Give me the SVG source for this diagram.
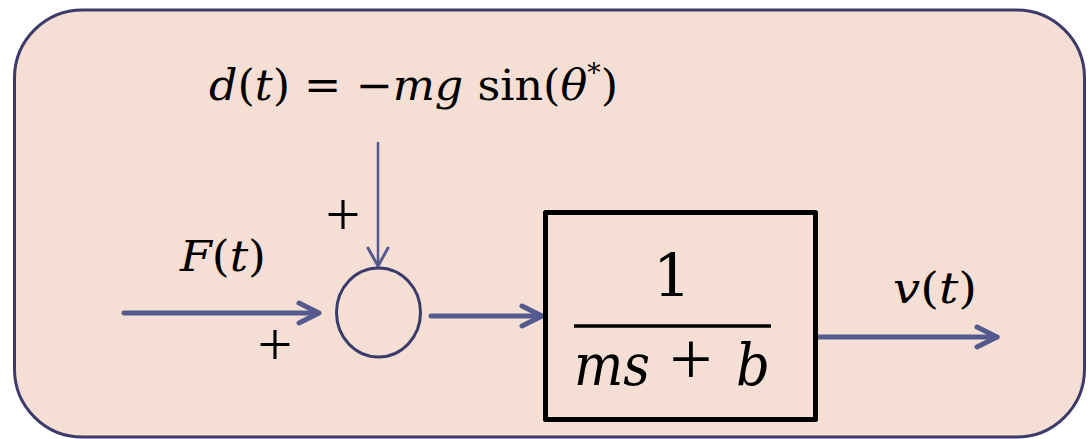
<svg xmlns="http://www.w3.org/2000/svg" width="1090" height="439" viewBox="0 0 1090 439">
<style>
.math{font-family:"DejaVu Serif","Liberation Serif",serif;fill:#000}
.i{font-style:italic}
.conn{stroke:#545a8e;fill:none;stroke-linecap:round;stroke-linejoin:round}
.sign{font-family:"Liberation Serif",serif;fill:#000;text-anchor:middle}
</style>
<g id="frame">
<rect x="14.5" y="10" width="1070" height="427" rx="68" ry="68" fill="#f5dfd4" stroke="#3c3b6b" stroke-width="3"/>
</g>
<g id="connectors">
<line class="conn" x1="378" y1="143" x2="378" y2="266" stroke-width="2.5"/>
<path class="conn" d="M368,248 L378,266 L388,248" stroke-width="3"/>
<line class="conn" x1="124" y1="313" x2="318" y2="313" stroke-width="5"/>
<path class="conn" d="M299,303 L319,313 L299,323" stroke-width="5"/>
<line class="conn" x1="431" y1="316" x2="541" y2="316" stroke-width="5"/>
<path class="conn" d="M522,306 L542,316 L522,326" stroke-width="5"/>
<line class="conn" x1="818" y1="337" x2="997" y2="337" stroke-width="5"/>
<path class="conn" d="M977,327 L997,337 L977,347" stroke-width="5"/>
</g>
<g id="disturbance">
<text class="math" x="209" y="100" font-size="43" textLength="409" lengthAdjust="spacingAndGlyphs"><tspan class="i">d</tspan>(<tspan class="i">t</tspan>) = −<tspan class="i">mg</tspan> sin(<tspan class="i">θ</tspan><tspan font-size="26" dy="-18">*</tspan><tspan dy="18">)</tspan></text>
</g>
<g id="sum">
<ellipse cx="378.5" cy="312.5" rx="42" ry="44.5" fill="none" stroke="#3b3b6b" stroke-width="3"/>
<text class="sign" x="343" y="235" font-size="62">+</text>
<text class="sign" x="275" y="365" font-size="62">+</text>
</g>
<g id="input-label">
<text class="math" x="180" y="271" font-size="43" textLength="86" lengthAdjust="spacingAndGlyphs"><tspan class="i">F</tspan>(<tspan class="i">t</tspan>)</text>
</g>
<g id="plant">
<rect x="545.5" y="212.5" width="270" height="207" fill="none" stroke="#000" stroke-width="5" stroke-linejoin="round"/>
<line x1="574" y1="326" x2="771" y2="326" stroke="#000" stroke-width="3.5"/>
<text class="math" x="672" y="297" font-size="60" text-anchor="middle">1</text>
<text class="math i" x="574" y="385" font-size="58" textLength="76" lengthAdjust="spacingAndGlyphs">ms</text>
<text class="sign" x="691" y="384" font-size="76">+</text>
<text class="math i" x="736" y="385" font-size="58" textLength="34" lengthAdjust="spacingAndGlyphs">b</text>
</g>
<g id="output-label">
<text class="math" x="893" y="303" font-size="43" textLength="84" lengthAdjust="spacingAndGlyphs"><tspan class="i">v</tspan>(<tspan class="i">t</tspan>)</text>
</g>
</svg>
